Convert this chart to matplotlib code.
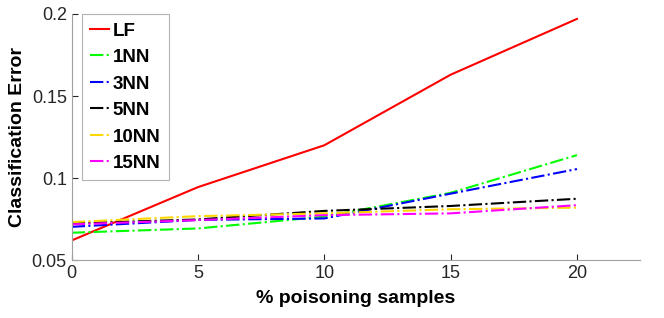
import matplotlib
matplotlib.use('Agg')
import matplotlib.pyplot as plt

plt.rcParams['font.family'] = ['Liberation Sans', 'DejaVu Sans']

x = [0, 5, 10, 15, 20]
lf = [0.062, 0.0945, 0.120, 0.163, 0.197]
nn1 = [0.0667, 0.0693, 0.0765, 0.091, 0.114]
nn3 = [0.0703, 0.0745, 0.0754, 0.0905, 0.1055]
nn5 = [0.0724, 0.0748, 0.0800, 0.0830, 0.0874]
nn10 = [0.0732, 0.0768, 0.0785, 0.0810, 0.0820]
nn15 = [0.0718, 0.0744, 0.0774, 0.0785, 0.0835]

labels = ['LF', '1NN', '3NN', '5NN', '10NN', '15NN']
colors = ['#ff0000', '#00ff00', '#0000ff', '#000000', '#ffd700', '#ff00ff']
series = [lf, nn1, nn3, nn5, nn10, nn15]

fig = plt.figure(figsize=(6.64, 3.18), dpi=100)
ax = fig.add_axes([0.108, 0.182, 0.856, 0.774])

for i, (y, c, lab) in enumerate(zip(series, colors, labels)):
    ls = '-' if i == 0 else '-.'
    ax.plot(x, y, ls, color=c, lw=1.5, label=lab)

ax.set_xlim(0, 22.5)
ax.set_ylim(0.05, 0.2)
ax.set_xticks([0, 5, 10, 15, 20])
ax.set_yticks([0.05, 0.1, 0.15, 0.2])
ax.set_yticklabels(['0.05', '0.1', '0.15', '0.2'])
ax.tick_params(direction='in', labelsize=13, colors='#262626', length=4)
for s in ['top', 'right']:
    ax.spines[s].set_visible(False)
for s in ['left', 'bottom']:
    ax.spines[s].set_color('#a0a0a0')
ax.set_xlabel('% poisoning samples', fontsize=14, fontweight='bold', labelpad=6)
ax.set_ylabel('Classification Error', fontsize=14, fontweight='bold')

leg = ax.legend(loc='upper left', bbox_to_anchor=(0.018, 1.0), borderaxespad=0,
                fancybox=False, edgecolor='#a0a0a0', handlelength=1.0,
                handletextpad=0.2, labelspacing=0.5, borderpad=0.45,
                prop={'weight': 'bold', 'size': 13.5})
leg.get_frame().set_linewidth(0.8)

fig.savefig('out.png', dpi=100)
